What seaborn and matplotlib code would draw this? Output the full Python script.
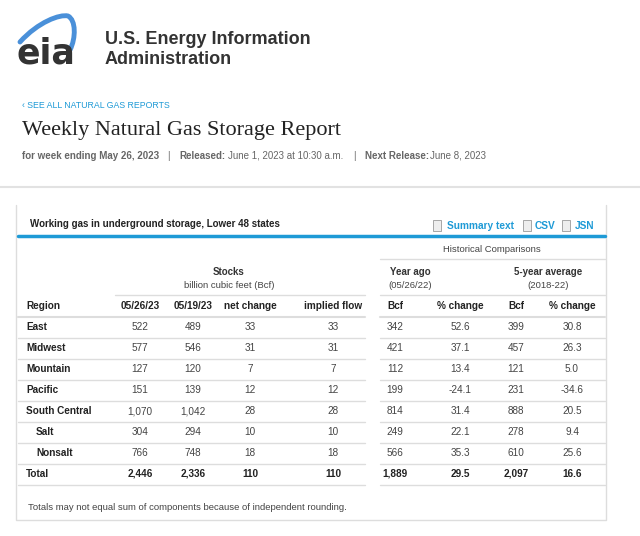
import matplotlib
matplotlib.use("Agg")
import matplotlib.pyplot as plt
import seaborn as sns
from matplotlib.path import Path
from matplotlib.patches import PathPatch

sns.set_theme(style="white")

regions = ["East", "Midwest", "Mountain", "Pacific", "South Central", "Salt", "Nonsalt", "Total"]
stocks_0526 = ["522", "577", "127", "151", "1,070", "304", "766", "2,446"]
stocks_0519 = ["489", "546", "120", "139", "1,042", "294", "748", "2,336"]
net_change = ["33", "31", "7", "12", "28", "10", "18", "110"]
implied_flow = ["33", "31", "7", "12", "28", "10", "18", "110"]
yearago_bcf = ["342", "421", "112", "199", "814", "249", "566", "1,889"]
yearago_pct = ["52.6", "37.1", "13.4", "-24.1", "31.4", "22.1", "35.3", "29.5"]
avg5_bcf = ["399", "457", "121", "231", "888", "278", "610", "2,097"]
avg5_pct = ["30.8", "26.3", "5.0", "-34.6", "20.5", "9.4", "25.6", "16.6"]
col_labels = ["05/26/23", "05/19/23", "net change", "implied flow", "Bcf", "% change", "Bcf", "% change"]

W, H = 640, 536
fig = plt.figure(figsize=(6.4, 5.36), dpi=100)
ax = fig.add_axes([0, 0, 1, 1])
ax.set_xlim(0, W)
ax.set_ylim(H, 0)
ax.axis("off")

F = "Liberation Sans"
DARK = "#333333"
BLUE = "#1e9ad6"

# logo
verts = [(20, 42), (38, 22), (60, 14), (68, 16), (76, 20), (76, 38), (70, 50)]
path = Path(verts, [Path.MOVETO, Path.CURVE4, Path.CURVE4, Path.CURVE4, Path.CURVE4, Path.CURVE4, Path.CURVE4])
ax.add_patch(PathPatch(path, fill=False, lw=3.5, ec="#4a90d9", capstyle="round"))
ax.text(17, 63, "eia", fontsize=25, family="DejaVu Sans", weight="bold", color=DARK, va="baseline")
ax.text(105, 44, "U.S. Energy Information", fontsize=13, family=F, weight="bold", color=DARK, va="baseline")
ax.text(105, 64, "Administration", fontsize=13, family=F, weight="bold", color=DARK, va="baseline")

ax.text(22, 105, "‹ SEE ALL NATURAL GAS REPORTS", fontsize=6.3, family=F, color=BLUE, va="center")
ax.text(22, 130, "Weekly Natural Gas Storage Report", fontsize=16, family="Liberation Serif", color="#222222", va="center")
sub = [(22, "for week ending May 26, 2023", "bold"), (167, "|", "normal"), (179, "Released:", "bold"),
       (228, "June 1, 2023 at 10:30 a.m.", "normal"), (353, "|", "normal"),
       (365, "Next Release:", "bold"), (430, "June 8, 2023", "normal")]
for x, t, w in sub:
    ax.text(x, 156, t, fontsize=7, family=F, weight=w, color="#666666", va="center")
ax.plot([0, W], [187, 187], color="#e2e2e2", lw=1.5)

# box
ax.plot([16, 16, 606, 606], [205, 520, 520, 205], color="#dddddd", lw=1)
ax.text(30, 224, "Working gas in underground storage, Lower 48 states", fontsize=7, family=F, weight="bold", color="#222222", va="center")
for x, t in [(447, "Summary text"), (535, "CSV"), (575, "JSN")]:
    ax.text(x, 226, t, fontsize=7.3, family=F, weight="bold", color=BLUE, va="center")
for x in [437, 527, 566]:
    ax.add_patch(plt.Rectangle((x - 4, 220), 8, 11, fc="#eeeeee", ec="#999999", lw=0.6))
ax.plot([18, 605], [236, 236], color="#1e9ad6", lw=2.5)

ax.text(492, 250, "Historical Comparisons", fontsize=6.8, family=F, color="#444444", ha="center", va="center")
ax.plot([380, 605], [259, 259], color="#dddddd", lw=1)
for x, t1, t2 in [(229, "Stocks", "billion cubic feet (Bcf)"), (410, "Year ago", "(05/26/22)"), (548, "5-year average", "(2018-22)")]:
    ax.text(x, 272, t1, fontsize=7, family=F, weight="bold", color="#333333", ha="center", va="center")
    ax.text(x, 285, t2, fontsize=6.8, family=F, color="#444444", ha="center", va="center")
ax.plot([115, 365], [295, 295], color="#dddddd", lw=1)
ax.plot([380, 605], [295, 295], color="#dddddd", lw=1)

xc = [140, 193, 250, 333, 395, 460, 516, 572]
ax.text(26, 306, "Region", fontsize=7.2, family=F, weight="bold", color="#222222", va="center")
for x, l in zip(xc, col_labels):
    ax.text(x, 306, l, fontsize=7.2, family=F, weight="bold", color="#222222", ha="center", va="center")

cols = [stocks_0526, stocks_0519, net_change, implied_flow, yearago_bcf, yearago_pct, avg5_bcf, avg5_pct]
for i, r in enumerate(regions):
    y = 327 + 21 * i
    yl = y - 10.5
    ax.plot([18, 365], [yl, yl], color="#dddddd", lw=1.5 if i == 0 else 1)
    ax.plot([380, 605], [yl, yl], color="#dddddd", lw=1.5 if i == 0 else 1)
    bold = r == "Total"
    ax.text(36 if r in ("Salt", "Nonsalt") else 26, y, r, fontsize=7.2, family=F, weight="bold", color="#222222", va="center")
    for x, c in zip(xc, cols):
        ax.text(x, y, c[i], fontsize=7.2, family=F, weight="bold" if bold else "normal", color="#222222" if bold else "#444444", ha="center", va="center")
ax.plot([18, 365], [485, 485], color="#dddddd", lw=1)
ax.plot([380, 605], [485, 485], color="#dddddd", lw=1)

ax.text(28, 508, "Totals may not equal sum of components because of independent rounding.", fontsize=6.8, family=F, color="#444444", va="center")

fig.savefig("out.png", dpi=100, facecolor="white")
